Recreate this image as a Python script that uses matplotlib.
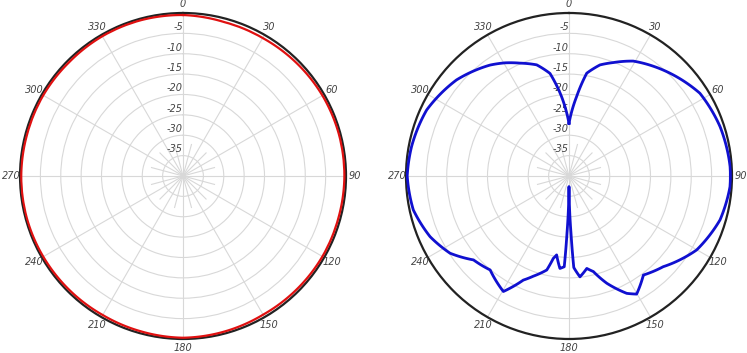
import matplotlib
matplotlib.use('Agg')
import matplotlib.pyplot as plt
import numpy as np

# radial scale (dB)
r_min = -40
r_max = 0
ring_values = [-35, -30, -25, -20, -15, -10, -5]
ring_labels = ["-35", "-30", "-25", "-20", "-15", "-10", "-5"]
angle_ticks = [0, 30, 60, 90, 120, 150, 180, 210, 240, 270, 300, 330]
angle_labels = ["0", "30", "60", "90", "120", "150", "180", "210", "240", "270", "300", "330"]

# left pattern (red), angle in degrees, gain in dB
red_angle = [0, 15, 30, 45, 60, 75, 90, 105, 120, 135, 150, 165, 180,
             195, 210, 225, 240, 255, 270, 285, 300, 315, 330, 345, 360]
red_gain = [-0.5, -0.9, -0.9, -0.7, -0.5, -0.4, -0.4, -0.5, -0.5, -0.6, -0.7, -0.5, -0.3,
            -0.5, -0.6, -0.5, -0.4, -0.3, -0.3, -0.4, -0.4, -0.5, -0.4, -0.4, -0.5]

# right pattern (blue)
blue_angle = [0, 5.5, 9.8, 15.6, 21.4, 29.2, 41.7, 57.7, 71.9, 86.7, 93.8, 106.2,
              120.1, 133.9, 143.1, 150.2, 153.8, 160.6, 165.7, 169.1, 173.8, 177.0,
              178.0, 179.2, 180.0, 180.8, 182.0, 183.0, 185.6, 188.9, 190.8, 193.3,
              199.6, 203.7, 209.6, 220.0, 228.7, 237.0, 246.4, 257.7, 270.0, 280.6,
              294.9, 310.5, 324.6, 330.5, 336.5, 343.8, 349.5, 354.7, 360]
blue_gain = [-27.1, -20.4, -14.4, -11.7, -10.1, -7.7, -5.2, -2.0, -1.0, -0.4, -0.4, -1.4,
             -3.8, -7.9, -9.6, -6.6, -7.9, -12.1, -15.8, -16.9, -15.1, -17.5,
             -26.0, -33.0, -37.4, -33.0, -26.0, -17.7, -17.2, -20.4, -19.4, -16.3,
             -13.9, -12.1, -7.4, -9.9, -8.8, -5.2, -2.8, -0.9, -0.3, -0.7,
             -1.5, -3.7, -6.6, -8.1, -9.8, -11.6, -14.4, -20.5, -27.1]


def SetupPolar(ax):
    ax.set_theta_zero_location('N')
    ax.set_theta_direction(-1)
    ax.set_ylim(r_min, r_max)
    ax.set_xticks(np.deg2rad(angle_ticks))
    ax.set_xticklabels([])
    ax.set_yticks(ring_values)
    ax.set_yticklabels([])
    ax.grid(True, color='#d8d8d8', linewidth=0.8)
    ax.spines['polar'].set_color('#222222')
    ax.spines['polar'].set_linewidth(1.6)
    # short spokes in between near the centre
    for a in range(15, 360, 30):
        ax.plot([np.deg2rad(a), np.deg2rad(a)], [r_min, -32], color='#d8d8d8', linewidth=0.8, zorder=1)

    for a, lab in zip(angle_ticks, angle_labels):
        ax.text(np.deg2rad(a), 2.2, lab, fontsize=7, style='italic', color='#444444',
                ha='center', va='center', clip_on=False)
    for r, lab in zip(ring_values, ring_labels):
        ax.text(0, r + 0.3, lab, fontsize=7, style='italic', color='#444444',
                ha='right', va='bottom')


def PlotPattern(ax, angle, gain, color, lw):
    line, = ax.plot(np.deg2rad(angle), gain, color=color, linewidth=lw, zorder=3)
    # draw segments as arcs in polar space instead of straight chords
    line.get_path()._interpolation_steps = 30
    return line


fig = plt.figure(figsize=(7.47, 3.53), dpi=100)
ax1 = fig.add_axes([0.0268, 0.0397, 0.4364, 0.9235], projection='polar')
ax2 = fig.add_axes([0.5435, 0.0397, 0.4364, 0.9235], projection='polar')

SetupPolar(ax1)
SetupPolar(ax2)

PlotPattern(ax1, red_angle, red_gain, '#e01010', 1.6)
PlotPattern(ax2, blue_angle, blue_gain, '#1010d0', 2.0)

plt.savefig('out.png', dpi=100)
